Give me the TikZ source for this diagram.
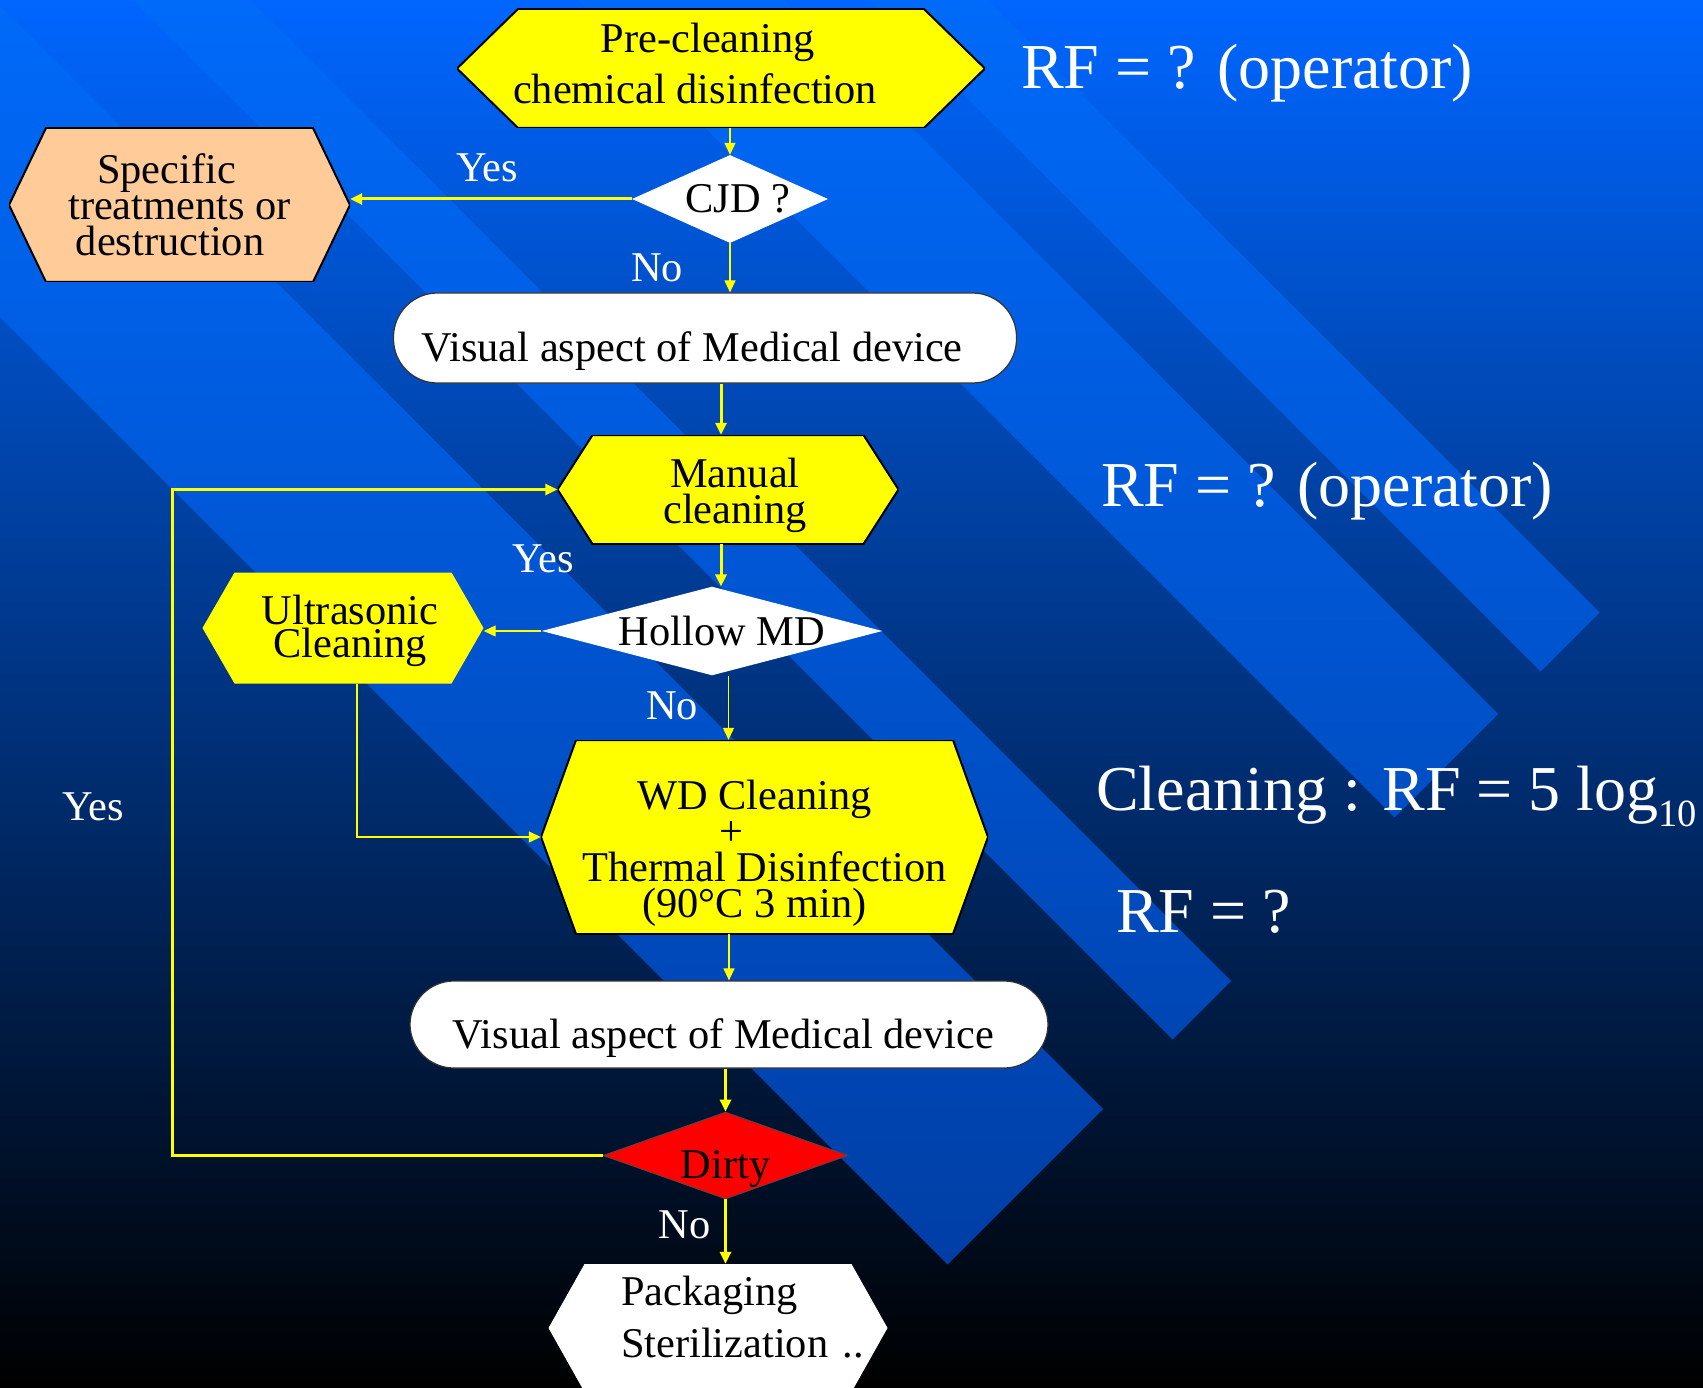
\documentclass[tikz,border=0pt]{standalone}
\usepackage{fontspec}
\setmainfont{Liberation Serif}
\usetikzlibrary{arrows.meta,shapes.geometric}

\definecolor{bgtop}{RGB}{0,102,255}
\definecolor{bandtop}{RGB}{0,106,250}
\definecolor{bandbot}{RGB}{0,62,165}
\definecolor{flowyellow}{RGB}{255,255,0}
\definecolor{peach}{RGB}{255,204,153}

\newcommand{\flowfont}{\fontsize{42.4}{36}\selectfont}
\newcommand{\rffont}{\fontsize{64}{76}\selectfont}

\tikzset{
  hexbox/.style n args={3}{rectangle, inner sep=0pt, align=center, font=\flowfont,
    path picture={
      \filldraw[fill=#2, draw=#3, line width=2pt]
        (path picture bounding box.west)
        -- ([xshift=#1]path picture bounding box.north west)
        -- ([xshift=-#1]path picture bounding box.north east)
        -- (path picture bounding box.east)
        -- ([xshift=-#1]path picture bounding box.south east)
        -- ([xshift=#1]path picture bounding box.south west) -- cycle;
    }},
  pill/.style={rectangle, rounded corners=44pt, fill=white, draw=black!80,
    line width=1.2pt, inner sep=0pt, font=\flowfont, text height=48pt, text depth=0pt},
  decision/.style={diamond, inner sep=0pt, font=\flowfont},
  answer/.style={text=white, inner sep=0pt, font=\flowfont},
  rftext/.style={text=white, inner sep=0pt, font=\rffont},
  flowthin/.style={draw=flowyellow, line width=1.2pt, -{Triangle[length=12pt,width=11pt]}},
  flowthick/.style={draw=flowyellow, line width=3pt, -{Triangle[length=12pt,width=11pt]}},
}

\begin{document}
\begin{tikzpicture}[x=1pt, y=-1pt]
  \useasboundingbox (0,0) rectangle (1703,1388);

  % background and stripes
  \shade[top color=bgtop, bottom color=black] (0,0) rectangle (1703,1388);
  \begin{scope}
    \clip (0,0) rectangle (1703,1388);
    \shade[top color=bandtop, bottom color=bandbot]
      (987,0) -- (1599.5,612.5) -- (1540.5,671.5) -- (869,0) -- cycle
      (784,0) -- (1498,714) -- (1394.5,817.5) -- (577,0) -- cycle
      (250,0) -- (1231,981) -- (1172.5,1039.5) -- (133,0) -- cycle
      (0,6) -- (1103,1109) -- (947.5,1264.5) -- (0,317) -- cycle;
  \end{scope}

  % flow chart
  \node[hexbox={61pt}{flowyellow}{black}, minimum width=528pt, minimum height=119pt,
    font=\fontsize{42.4}{51.3}\selectfont] (pre) at (721,68.5)
    {Pre-cleaning\hspace*{26pt}\\chemical disinfection\hspace*{52pt}\rule[-10pt]{0pt}{0pt}};
  \node[decision, fill=white, minimum width=196pt, minimum height=88pt, aspect=2.23]
    (cjd) at (730,199) {\hspace*{16pt}CJD ?};
  \node[hexbox={37pt}{peach}{black}, minimum width=341pt, minimum height=154pt]
    (spec) at (179.5,205)
    {Specific\hspace*{26pt}\\treatments or\hspace*{4pt}\\destruction\hspace*{19pt}};
  \node[pill, minimum width=623pt, minimum height=90pt] (vis1) at (705,338)
    {Visual aspect of Medical device\hspace*{26pt}};
  \node[hexbox={35pt}{flowyellow}{black}, minimum width=341pt, minimum height=109pt]
    (manual) at (728,489.5) {\rule{0pt}{41pt}\hspace*{14pt}Manual\\\hspace*{14pt}cleaning};
  \node[decision, fill=white, minimum width=338pt, minimum height=88pt, aspect=3.84]
    (hollow) at (712,631) {\hspace*{20pt}Hollow MD};
  \node[hexbox={32pt}{flowyellow}{none}, minimum width=281pt, minimum height=111pt,
    font=\fontsize{42.4}{33}\selectfont] (ultra) at (343,628)
    {\rule{0pt}{35pt}\hspace*{14pt}Ultrasonic\\\hspace*{14pt}Cleaning};
  \node[hexbox={35pt}{flowyellow}{black}, minimum width=447pt, minimum height=194pt]
    (wd) at (764.5,837)
    {\rule{0pt}{62pt}WD Cleaning\hspace*{20pt}\\\makebox[91pt][l]{+}\\Thermal Disinfection\\(90°C 3 min)\hspace*{20pt}};
  \node[pill, minimum width=638pt, minimum height=87pt] (vis2) at (729,1024.5)
    {Visual aspect of Medical device\hspace*{11pt}};
  \node[decision, fill=red, draw=black!70, line width=0.8pt, minimum width=245pt,
    minimum height=87pt, aspect=2.82, text height=45pt, text depth=0pt]
    (dirty) at (725.5,1155.5) {Dirty};
  \node[hexbox={36pt}{white}{none}, minimum width=339pt, minimum height=128pt,
    text width=194pt, align=left, font=\fontsize{42.4}{52}\selectfont]
    (pack) at (718,1328)
    {Packaging\\\mbox{Sterilization ..}\rule[-23pt]{0pt}{23pt}};

  \coordinate (back) at (172,0);

  % connectors
  \draw[flowthin] (cjd.north |- pre.south) -- (cjd.north);
  \draw[flowthick] (cjd.west) -- (cjd.west -| spec.east);
  \draw[flowthin] (cjd.south) -- (cjd.south |- vis1.north);
  \draw[flowthick] ([xshift=-7pt]manual.north |- vis1.south) -- ([xshift=-7pt]manual.north);
  \draw[flowthick] ([xshift=9pt]hollow.north |- manual.south) -- ([xshift=9pt]hollow.north);
  \draw[flowthin] (hollow.west) -- (hollow.west -| ultra.east);
  \draw[flowthin] ([xshift=-36pt]wd.north |- hollow.south) -- ([xshift=-36pt]wd.north);
  \draw[flowthin] ([xshift=14pt]ultra.south) |- (wd.west);
  \draw[flowthin] (vis2.north |- wd.south) -- (vis2.north);
  \draw[flowthick] (dirty.north |- vis2.south) -- (dirty.north);
  \draw[flowthick] (dirty.west) -- (dirty.west -| back) |- (manual.west);
  \draw[flowthick] (dirty.south) -- (dirty.south |- pack.north);

  % answers
  \node[answer, anchor=base] (yescjd) at (487,182) {Yes};
  \node[answer, anchor=base] (nocjd) at (657,282) {No};
  \node[answer, anchor=base] (yeshollow) at (543,572) {Yes};
  \node[answer, anchor=base] (nohollow) at (672,719) {No};
  \node[answer, anchor=base] (yesdirty) at (93,820) {Yes};
  \node[answer, anchor=base] (nodirty) at (684.5,1238) {No};

  % reduction factors
  \node[rftext, anchor=base west] (rfpre) at (1021,89) {RF = ? (operator)};
  \node[rftext, anchor=base west] (rfmanual) at (1101,506) {RF = ? (operator)};
  \node[rftext, anchor=base west] (rfwd) at (1096,810)
    {Cleaning : RF = 5 log{\fontsize{38.5}{40}\selectfont\raisebox{-16pt}{10}}};
  \node[rftext, anchor=base west] (rfthermal) at (1116,932) {RF = ?};
\end{tikzpicture}
\end{document}
